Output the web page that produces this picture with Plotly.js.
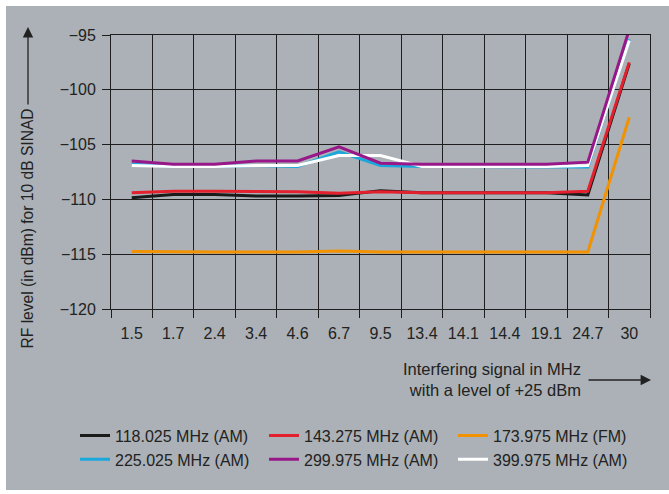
<!DOCTYPE html>
<html>
<head>
<meta charset="utf-8">
<script src="https://cdn.plot.ly/plotly-3.0.1.min.js"></script>
<style>
  html, body { margin: 0; padding: 0; background: #ffffff; width: 669px; height: 494px; overflow: hidden; }
  #chart { position: absolute; left: 6px; top: 6px; width: 663px; height: 484px; }
</style>
</head>
<body>
<div id="chart"></div>
<script>
// Interfering signal frequencies (MHz) – category labels
const categories = ['1.5', '1.7', '2.4', '3.4', '4.6', '6.7', '9.5', '13.4', '14.1', '14.4', '19.1', '24.7', '30'];

// RF level (dBm) for 10 dB SINAD, per receive frequency
const s118 = [-109.85, -109.55, -109.55, -109.7, -109.7, -109.65, -109.2, -109.4, -109.4, -109.4, -109.4, -109.6, -97.6];
const s143 = [-109.4, -109.25, -109.25, -109.3, -109.3, -109.45, -109.3, -109.4, -109.4, -109.4, -109.4, -109.25, -97.5];
const s173 = [-114.75, -114.8, -114.8, -114.8, -114.8, -114.7, -114.8, -114.8, -114.8, -114.8, -114.8, -114.8, -102.5];
const s225 = [-106.8, -107.0, -107.0, -106.9, -107.0, -105.65, -106.9, -107.0, -107.0, -107.0, -107.0, -107.05, -95.4];
const s299 = [-106.5, -106.8, -106.8, -106.5, -106.5, -105.2, -106.7, -106.8, -106.8, -106.8, -106.8, -106.6, -94.5];
const s399 = [-106.9, -107.0, -107.0, -106.9, -106.9, -106.0, -106.0, -107.0, -107.0, -107.0, -107.0, -106.9, -95.5];

const seriesNames = ['118.025 MHz (AM)', '143.275 MHz (AM)', '173.975 MHz (FM)', '225.025 MHz (AM)', '299.975 MHz (AM)', '399.975 MHz (AM)'];
const yTickVals = [-120, -115, -110, -105, -100, -95];

const sans = '"Liberation Sans", Arial, sans-serif';
const txt = '#222222';
const grid = '#1e1e1e';

function tr(y, name, color, rank) {
  return {
    type: 'scatter', mode: 'lines', x: categories, y: y, name: name,
    line: { color: color, width: 3 }, legendrank: rank, cliponaxis: false,
    hoverinfo: 'x+y+name'
  };
}

// draw order: black, red, orange, cyan, white, purple (purple on top)
const data = [
  tr(s118, seriesNames[0], '#1a1a1a', 1),
  tr(s143, seriesNames[1], '#e2202e', 2),
  tr(s173, seriesNames[2], '#f39200', 3),
  tr(s225, seriesNames[3], '#1aa7dc', 4),
  tr(s399, seriesNames[5], '#ffffff', 6),
  tr(s299, seriesNames[4], '#98188a', 5)
];

const layout = {
  width: 663, height: 484,
  paper_bgcolor: '#abb1b6', plot_bgcolor: '#abb1b6',
  margin: { l: 105, r: 19, t: 29, b: 181 },
  showlegend: true,
  font: { family: sans, size: 16, color: txt },
  xaxis: {
    type: 'category', tickson: 'boundaries', tickangle: 0,
    range: [-0.5, 12.5], fixedrange: true,
    showgrid: true, gridcolor: grid, gridwidth: 1,
    showline: true, mirror: true, linecolor: grid, linewidth: 1,
    ticks: 'outside', ticklen: 8, tickcolor: grid, tickwidth: 1,
    ticklabelstandoff: 10,
    tickfont: { family: sans, size: 16, color: txt },
    zeroline: false
  },
  yaxis: {
    range: [-120, -95], tickvals: yTickVals, fixedrange: true,
    showgrid: true, gridcolor: grid, gridwidth: 1,
    showline: true, mirror: true, linecolor: grid, linewidth: 1,
    ticks: 'outside', ticklen: 8, tickcolor: grid, tickwidth: 1,
    ticklabelstandoff: 3,
    tickfont: { family: sans, size: 16, color: txt },
    zeroline: false
  },
  legend: {
    orientation: 'h', x: -0.0668, xanchor: 'left', y: -0.40, yanchor: 'top',
    entrywidth: 144, entrywidthmode: 'pixels',
    font: { family: sans, size: 16, color: txt },
    bgcolor: 'rgba(0,0,0,0)', traceorder: 'normal'
  },
  annotations: [
    {
      xref: 'paper', yref: 'paper', x: -0.154, y: 0.2938, xanchor: 'center', yanchor: 'middle',
      text: 'RF level (in dBm) for 10 dB SINAD', textangle: -90, showarrow: false,
      font: { family: sans, size: 15.6, color: txt }
    },
    {
      xref: 'paper', yref: 'paper', x: -0.154, y: 1.029, text: '', showarrow: true,
      ax: 0, ay: 79, arrowhead: 2, arrowsize: 1.6, arrowwidth: 1.3, arrowcolor: '#222222', standoff: 0
    },
    {
      xref: 'paper', yref: 'paper', x: 0.876, y: -0.2555, xanchor: 'right', yanchor: 'middle',
      text: 'Interfering signal in MHz<br>with a level of +25 dBm', align: 'right', showarrow: false,
      font: { family: sans, size: 16.5, color: txt }
    },
    {
      xref: 'paper', yref: 'paper', x: 1.0019, y: -0.2591, text: '', showarrow: true,
      ax: -64, ay: 0, arrowhead: 2, arrowsize: 1.6, arrowwidth: 1.3, arrowcolor: '#222222', standoff: 0
    }
  ]
};

Plotly.newPlot('chart', data, layout, { displayModeBar: false, staticPlot: true });
</script>
</body>
</html>
